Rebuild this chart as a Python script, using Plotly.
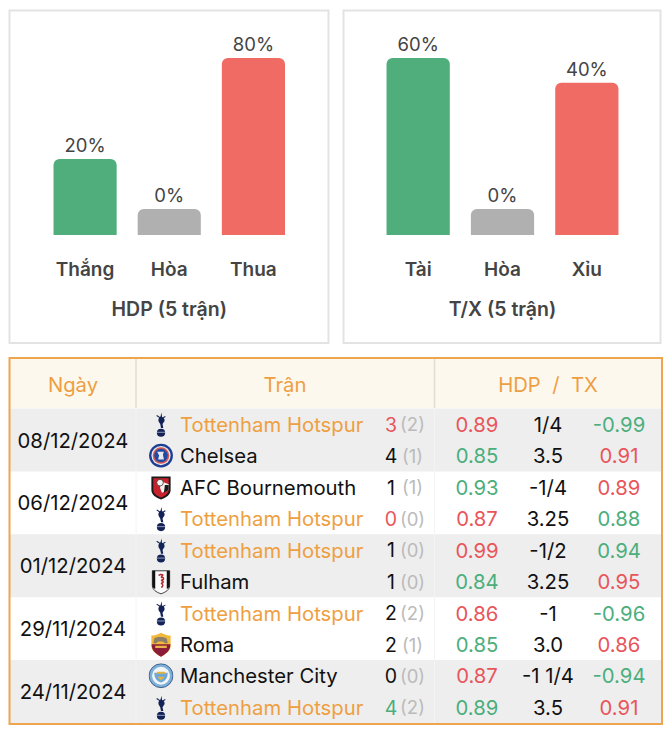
import base64
import plotly.graph_objects as go

# ---------- data ----------
hdp_categories = ["Thắng", "Hòa", "Thua"]
hdp_labels = ["20%", "0%", "80%"]
# Drawn bar lengths relative to the tallest bar. The source does not scale them
# linearly with the printed percentage, so they are read separately.
hdp_bar_lengths = [43, 14.7, 100]

tx_categories = ["Tài", "Hòa", "Xỉu"]
tx_labels = ["60%", "0%", "40%"]
tx_bar_lengths = [100, 14.7, 86]

dates = ["08/12/2024", "06/12/2024", "01/12/2024", "29/11/2024", "24/11/2024"]
teams = ["Tottenham Hotspur", "Chelsea", "AFC Bournemouth", "Tottenham Hotspur",
         "Tottenham Hotspur", "Fulham", "Tottenham Hotspur", "Roma",
         "Manchester City", "Tottenham Hotspur"]
crests = ["spurs", "chelsea", "bournemouth", "spurs", "spurs", "fulham",
          "spurs", "roma", "city", "spurs"]
scores = ["3", "4", "1", "0", "1", "1", "2", "2", "0", "4"]
score_tones = ["loss", "plain", "plain", "loss", "plain", "plain", "plain", "plain", "plain", "win"]
halftime = ["(2)", "(1)", "(1)", "(0)", "(0)", "(0)", "(2)", "(1)", "(0)", "(2)"]
odds_left = ["0.89", "0.85", "0.93", "0.87", "0.99", "0.84", "0.86", "0.85", "0.87", "0.89"]
odds_left_tones = ["loss", "win", "win", "loss", "loss", "win", "loss", "win", "loss", "win"]
odds_mid = ["1/4", "3.5", "-1/4", "3.25", "-1/2", "3.25", "-1", "3.0", "-1 1/4", "3.5"]
odds_right = ["-0.99", "0.91", "0.89", "0.88", "0.94", "0.95", "-0.96", "0.86", "-0.94", "0.91"]
odds_right_tones = ["win", "loss", "loss", "win", "win", "loss", "win", "loss", "win", "loss"]

# ---------- styling ----------
W, H = 672, 734
FONT = "Inter, 'Noto Sans', sans-serif"
GREEN, RED, GREY = "#4fae7b", "#ef6b64", "#b0b0b0"
TXT_GREEN, TXT_RED = "#4bae7c", "#e8555a"
ORANGE = "#ee9f42"
INK = "#111111"
TONE = {"win": TXT_GREEN, "loss": TXT_RED, "plain": INK}

ROW0, ROW_H = 426.8, 31.45
CREST0 = 424.6
row_y = [ROW0 + ROW_H * i for i in range(len(teams))]
crest_y = [CREST0 + ROW_H * i for i in range(len(teams))]
date_y = [ROW0 + ROW_H * (2 * i + 0.5) for i in range(len(dates))]


def px(v):
    return v / W


def py(v):
    return 1 - v / H


fig = go.Figure()

# ---------- bar charts ----------
for cats, lens, labs, ax in [
    (hdp_categories, hdp_bar_lengths, hdp_labels, ""),
    (tx_categories, tx_bar_lengths, tx_labels, "2"),
]:
    fig.add_trace(go.Bar(
        x=cats, y=lens, text=labs, textposition="outside", cliponaxis=False,
        textfont=dict(size=18.5, color="#444444", family=FONT),
        marker=dict(color=[GREEN, GREY, RED], cornerradius=6, line_width=0),
        xaxis="x" + ax, yaxis="y" + ax, hoverinfo="skip",
    ))


def text_trace(x, y, text, color, size=20.3, pos="middle center"):
    fig.add_trace(go.Scatter(
        x=x, y=y, text=text, mode="text", textposition=pos, cliponaxis=False,
        textfont=dict(size=size, color=color, family=FONT),
        xaxis="x3", yaxis="y3", hoverinfo="skip", showlegend=False,
    ))


# ---------- table text ----------
n = len(teams)
text_trace([73, 285, 548], [386.5] * 3, ["Ngày", "Trận", "HDP  /  TX"], ORANGE)
text_trace([73] * len(dates), date_y, dates, INK)
text_trace([180] * n, row_y, teams,
           [ORANGE if "Tottenham" in t else INK for t in teams], pos="middle right")
text_trace([391] * n, row_y, scores, [TONE[t] for t in score_tones], size=19.5)
text_trace([412.5] * n, row_y, halftime, "#bbbbbb", size=18.5)
text_trace([477] * n, row_y, odds_left, [TONE[t] for t in odds_left_tones])
text_trace([548] * n, row_y, odds_mid, INK)
text_trace([619] * n, row_y, odds_right, [TONE[t] for t in odds_right_tones])

# ---------- shapes ----------
shapes = []


def rect(x0, y0, x1, y1, fill="rgba(0,0,0,0)", line=None, lw=0, layer="below"):
    shapes.append(dict(type="rect", xref="x3", yref="y3", x0=x0, y0=y0, x1=x1, y1=y1,
                       fillcolor=fill, line=dict(color=line, width=lw) if lw else dict(width=0),
                       layer=layer))


rect(9.5, 10.5, 328.5, 343, line="#e3e3e3", lw=2)
rect(343.5, 10.5, 660.5, 343, line="#e3e3e3", lw=2)
rect(9, 358, 662, 408, fill="#fdf8ee")
for i in range(0, len(dates), 2):
    rect(9, 408.5 + 2 * ROW_H * i, 662, 408.5 + 2 * ROW_H * (i + 1), fill="#eeeeee")
for xv in (136, 434.5):
    shapes.append(dict(type="line", xref="x3", yref="y3", x0=xv, x1=xv, y0=358, y1=408,
                       line=dict(color="#e2ddd3", width=1.5), layer="below"))
    shapes.append(dict(type="line", xref="x3", yref="y3", x0=xv, x1=xv, y0=408, y1=724,
                       line=dict(color="#f4f4f4", width=1), layer="below"))
rect(9.5, 358, 662, 724, line="#eea54e", lw=2, layer="above")

# ---------- crests (simplified emblems) ----------
SVG = {
    "spurs": ('<path d="M13.500 1 l.6 4.500 c2.200 .8 3 2.300 2.500 4.500 l-2 3 .8 4 h-2.400 l-.8-4 -1.600-2.500 '
              'c-.8-2.400 0-4.500 1.900-5.500 z" fill="#132257"/>'
              '<path d="M8.500 4 l4.500 3 M17.500 5 l-3.500 2" stroke="#132257" stroke-width="1.100" fill="none"/>'
              '<ellipse cx="13" cy="22" rx="4.300" ry="4.200" fill="#132257"/>'
              '<path d="M8.800 21.500 h8.400" stroke="#cfd5e6" stroke-width=".7"/>'),
    "chelsea": ('<circle cx="13" cy="13" r="12.4" fill="#1c3f94"/>'
                '<circle cx="13" cy="13" r="10" fill="#e8e8ef"/>'
                '<circle cx="13" cy="13" r="8.6" fill="#d4574f"/>'
                '<circle cx="13" cy="13" r="7" fill="#1f4aa5"/>'
                '<path d="M9 9 h7 l-1 3 1 5 h-6 l1-4 z" fill="#e8e8ef"/>'),
    "bournemouth": ('<path d="M3 2 h20 v14 c0 5-5 8-10 10 c-5-2-10-5-10-10 z" fill="#1a1a1a"/>'
                    '<path d="M5 4 h16 v12 c0 4-4 6-8 8 c-4-2-8-4-8-8 z" fill="#c8232c"/>'
                    '<path d="M13 7 l8 3 v6 l-7 3 -2-5 z" fill="#f2f2f2"/>'
                    '<path d="M17 11 l4 0 v5 l-5 3 z" fill="#1a1a1a"/>'
                    '<circle cx="12" cy="8.5" r="3.4" fill="#f5f5f5" stroke="#222" stroke-width=".7"/>'),
    "fulham": ('<path d="M4 2 h18 v15 c0 5-4 7-9 9 c-5-2-9-4-9-9 z" fill="#fafafa" stroke="#222" stroke-width=".9"/>'
               '<path d="M4 2 h3 v19 c-2-1-3-2-3-4 z M22 2 h-3 v19 c2-1 3-2 3-4 z" fill="#111"/>'
               '<path d="M10.5 7 c3-3 5 0 2.5 2 c3-1 4 2 0 3 c3 0 3 3 0 3 c3 1 2 4 0 4 M15.5 7 c-2-2-4-1-5 0" '
               'fill="none" stroke="#b4252b" stroke-width="1.5"/>'),
    "roma": ('<path d="M13 1 c4 2 7 3 10 3 v11 c0 5-5 8-10 11 c-5-3-10-6-10-11 v-11 c3 0 6-1 10-3 z" fill="#f2b83a"/>'
             '<path d="M3.2 13 h19.6 c0 7-5 10-9.8 13 c-4.800-3-9.800-6-9.800-13 z" fill="#8c1d3a"/>'
             '<path d="M6 7 c3-2 9-2 13 0 l1 5 h-3 l-2-2 h-5 l-2 2 h-3 z" fill="#8b7f6a"/>'
             '<rect x="7" y="14.500" width="12" height="2.400" fill="#e8b54a"/>'),
    "city": ('<circle cx="13" cy="13" r="12.400" fill="#7fb0da" stroke="#24456f" stroke-width=".8"/>'
             '<circle cx="13" cy="13" r="9.300" fill="#f2f5f8"/>'
             '<path d="M6 10 h14 c0 6-3 9-7 10 c-4-1-7-4-7-10 z" fill="#6ca7d8"/>'
             '<path d="M9 9 h8 l1 2 h-10 z M9 14 l8 0 -4 4 z" fill="#e2b33e"/>'),
}


def uri(name):
    svg = f'<svg xmlns="http://www.w3.org/2000/svg" viewBox="0 0 26 27" width="104" height="108">{SVG[name]}</svg>'
    return "data:image/svg+xml;base64," + base64.b64encode(svg.encode()).decode()


images = [dict(source=uri(c), xref="x3", yref="y3", x=161, y=yv, sizex=25, sizey=26,
               xanchor="center", yanchor="middle", sizing="contain", layer="above")
          for c, yv in zip(crests, crest_y)]

# ---------- layout ----------
tick = dict(size=19, color="#444444", family=FONT, weight=600)
title_font = dict(size=19.5, color="#444444", family=FONT, weight=600)
bar_y_domain = [py(235), py(58)]


def xa(x0, x1, title):
    return dict(domain=[px(x0), px(x1)], tickfont=tick, showgrid=False, zeroline=False,
                showline=False, ticks="outside", ticklen=17, tickcolor="rgba(0,0,0,0)",
                title=dict(text=title, font=title_font, standoff=22), fixedrange=True)


def ya(anchor):
    return dict(domain=bar_y_domain, range=[0, 100], visible=False, anchor=anchor, fixedrange=True)


fig.update_layout(
    width=W, height=H, autosize=False,
    margin=dict(l=0, r=0, t=0, b=0), showlegend=False,
    paper_bgcolor="white", plot_bgcolor="rgba(0,0,0,0)", bargap=0.25,
    font=dict(family=FONT),
    xaxis=xa(43, 295.5, "HDP (5 trận)"), yaxis=ya("x"),
    xaxis2=dict(**xa(376, 629, "T/X (5 trận)"), anchor="y2"), yaxis2=ya("x2"),
    xaxis3=dict(domain=[0, 1], range=[0, W], visible=False, anchor="y3", fixedrange=True),
    yaxis3=dict(domain=[0, 1], range=[H, 0], visible=False, anchor="x3", fixedrange=True),
    shapes=shapes, images=images,
)

fig.write_html("out.html", config={"displayModeBar": False, "responsive": False},
               post_script="document.body.style.margin='0';")
